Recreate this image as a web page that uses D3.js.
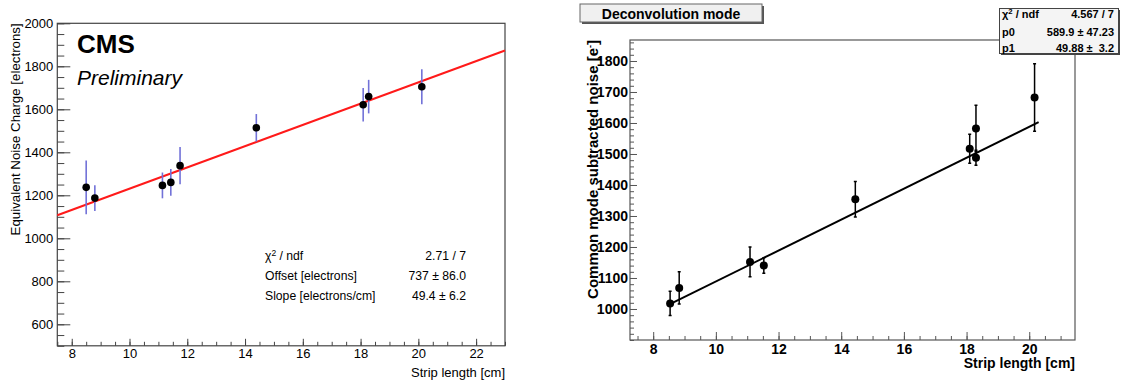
<!DOCTYPE html>
<html>
<head>
<meta charset="utf-8">
<script src="https://cdn.jsdelivr.net/npm/d3@7"></script>
<style>
  html, body { margin: 0; padding: 0; background: #fff; }
  svg { display: block; font-family: "Liberation Sans", Arial, sans-serif; }
  text { white-space: pre; }
</style>
</head>
<body>
<svg id="chart" width="1121" height="386"></svg>
<script>
// ─── Data ────────────────────────────────────────────────────────────────────

// Left panel (CMS Preliminary)
const stripLeft  = [8.5, 8.8, 11.14, 11.43, 11.75, 14.39, 18.09, 18.28, 20.12];
const encLeft    = [1237, 1187, 1246, 1260, 1338, 1514, 1621, 1659, 1705];
const encErrLeft = [125, 60, 60, 62, 87, 64, 78, 78, 81];
const fitLeft    = { offset: 737, slope: 49.4 };
const statsLeft  = [
  ['χ2 / ndf', '2.71 / 7'],
  ['Offset [electrons]', '737 ± 86.0'],
  ['Slope [electrons/cm]', '49.4 ± 6.2'],
];
const yTicksLeft = [600, 800, 1000, 1200, 1400, 1600, 1800, 2000];
const xTicksLeft = [8, 10, 12, 14, 16, 18, 20, 22];

// Right panel (Deconvolution mode)
const stripRight    = [8.54, 8.83, 11.09, 11.53, 14.45, 18.1, 18.3, 18.3, 20.17];
const noiseRight    = [1018, 1068, 1152, 1140, 1354, 1517, 1582, 1488, 1682];
const noiseErrRight = [39, 52, 48, 25, 57, 47, 75, 24, 109];
const fitRight      = { p0: 589.9, p1: 49.88, from: 8.55, to: 20.3 };
const statsRight    = [
  ['χ2 / ndf', '4.567 / 7'],
  ['p0', '589.9 ± 47.23'],
  ['p1', '49.88 ±  3.2'],
];
const yTicksRight = [1000, 1100, 1200, 1300, 1400, 1500, 1600, 1700, 1800];
const xTicksRight = [8, 10, 12, 14, 16, 18, 20];

const svg = d3.select('#chart');

// ─── Helpers ─────────────────────────────────────────────────────────────────

function range(a, b, step) {
  const out = [];
  for (let v = a; v <= b + 1e-9; v += step) out.push(+v.toFixed(4));
  return out;
}

// ROOT-style frame: ticks point inward, labels outside
function drawFrame(g, x, y, opt) {
  const [x0, x1] = x.range();
  const [y1, y0] = y.range();

  // minor ticks
  g.append('g')
    .attr('transform', `translate(${x0},0)`)
    .call(d3.axisLeft(y).tickValues(opt.yMinor).tickSize(-opt.yMinorLen).tickFormat(''))
    .call(s => { s.select('.domain').remove(); s.selectAll('line').attr('stroke', opt.frame); });
  g.append('g')
    .attr('transform', `translate(0,${y1})`)
    .call(d3.axisBottom(x).tickValues(opt.xMinor).tickSize(-opt.xMinorLen).tickFormat(''))
    .call(s => { s.select('.domain').remove(); s.selectAll('line').attr('stroke', opt.frame); });

  // major ticks + labels
  g.append('g')
    .attr('transform', `translate(${x0},0)`)
    .call(d3.axisLeft(y).tickValues(opt.yTicks).tickSize(-opt.yMajorLen).tickPadding(opt.yPad).tickFormat(d3.format('d')))
    .call(s => {
      s.select('.domain').remove();
      s.selectAll('line').attr('stroke', opt.frame);
      s.selectAll('text').attr('fill', '#000')
        .style('font-size', opt.fontSize).style('font-weight', opt.weight)
        .style('font-family', '"Liberation Sans", Arial, sans-serif');
    });
  g.append('g')
    .attr('transform', `translate(0,${y1})`)
    .call(d3.axisBottom(x).tickValues(opt.xTicks).tickSize(-opt.xMajorLen).tickPadding(0).tickFormat(d3.format('d')))
    .call(s => {
      s.select('.domain').remove();
      s.selectAll('line').attr('stroke', opt.frame);
      s.selectAll('text').attr('fill', '#000').attr('y', null).attr('dy', null)
        .attr('transform', `translate(0,${opt.xLabelBase - y1})`)
        .style('font-size', opt.fontSize).style('font-weight', opt.weight)
        .style('font-family', '"Liberation Sans", Arial, sans-serif');
    });

  g.append('rect')
    .attr('x', x0).attr('y', y0)
    .attr('width', x1 - x0).attr('height', y1 - y0)
    .attr('fill', 'none').attr('stroke', opt.frame).attr('stroke-width', 1.2);
}

function chiLabel(sel) {
  sel.text('χ');
  sel.append('tspan').attr('dy', -4).style('font-size', '0.7em').text('2');
  sel.append('tspan').attr('dy', 4).text(' / ndf');
}

// ─── Left panel ──────────────────────────────────────────────────────────────

const xL = d3.scaleLinear().domain([7.5, 23]).range([57.3, 505]);
const yL = d3.scaleLinear().domain([500, 2000]).range([345.8, 23.3]);
const gL = svg.append('g');

drawFrame(gL, xL, yL, {
  frame: '#444', fontSize: '13px', weight: 'normal',
  yTicks: yTicksLeft, yMinor: range(500, 2000, 50), yMajorLen: 13, yMinorLen: 7, yPad: 4,
  xTicks: xTicksLeft, xMinor: range(7.5, 23, 0.5), xMajorLen: 7, xMinorLen: 4,
  xLabelBase: 358,
});

gL.append('line')
  .attr('x1', xL(7.5)).attr('y1', yL(fitLeft.offset + fitLeft.slope * 7.5))
  .attr('x2', xL(23)).attr('y2', yL(fitLeft.offset + fitLeft.slope * 23))
  .attr('stroke', '#ff1a1a').attr('stroke-width', 2);

const ptsL = stripLeft.map((s, i) => ({ x: s, y: encLeft[i], e: encErrLeft[i] }));
gL.selectAll('.err').data(ptsL).join('line')
  .attr('x1', d => xL(d.x)).attr('x2', d => xL(d.x))
  .attr('y1', d => yL(d.y - d.e)).attr('y2', d => yL(d.y + d.e))
  .attr('stroke', '#7272d8').attr('stroke-width', 1.6);
gL.selectAll('.pt').data(ptsL).join('circle')
  .attr('cx', d => xL(d.x)).attr('cy', d => yL(d.y)).attr('r', 3.8).attr('fill', '#000');

gL.append('text').attr('x', 77).attr('y', 53)
  .style('font-size', '26px').style('font-weight', 'bold').text('CMS');
gL.append('text').attr('x', 77).attr('y', 85)
  .style('font-size', '21px').style('font-style', 'italic').text('Preliminary');

gL.append('text')
  .attr('transform', 'translate(19.5,23.3) rotate(-90)')
  .attr('text-anchor', 'end')
  .style('font-size', '13.3px')
  .text('Equivalent Noise Charge [electrons]');
gL.append('text')
  .attr('x', 505).attr('y', 377).attr('text-anchor', 'end')
  .style('font-size', '13px')
  .text('Strip length [cm]');

const statBaseL = [260, 280, 299.5];
statsLeft.forEach(([k, v], i) => {
  const t = gL.append('text').attr('x', 265).attr('y', statBaseL[i]).style('font-size', '12.2px');
  if (i === 0) chiLabel(t); else t.text(k);
  gL.append('text').attr('x', 466).attr('y', statBaseL[i]).attr('text-anchor', 'end')
    .style('font-size', '12.2px').text(v);
});

// ─── Right panel ─────────────────────────────────────────────────────────────

const xR = d3.scaleLinear().domain([7.26, 21.46]).range([630, 1075]);
const yR = d3.scaleLinear().domain([900, 1867.7]).range([340, 40]);
const gR = svg.append('g');

drawFrame(gR, xR, yR, {
  frame: '#555', fontSize: '14px', weight: 'bold',
  yTicks: yTicksRight, yMinor: range(900, 1860, 20), yMajorLen: 7, yMinorLen: 4, yPad: 2,
  xTicks: xTicksRight, xMinor: range(7.5, 21, 0.5), xMajorLen: 8, xMinorLen: 4,
  xLabelBase: 354,
});

gR.append('line')
  .attr('x1', xR(fitRight.from)).attr('y1', yR(fitRight.p0 + fitRight.p1 * fitRight.from))
  .attr('x2', xR(fitRight.to)).attr('y2', yR(fitRight.p0 + fitRight.p1 * fitRight.to))
  .attr('stroke', '#000').attr('stroke-width', 2);

const ptsR = stripRight.map((s, i) => ({ x: s, y: noiseRight[i], e: noiseErrRight[i] }));
gR.selectAll('.err').data(ptsR).join('path')
  .attr('d', d => {
    const cx = xR(d.x), t = yR(d.y + d.e), b = yR(d.y - d.e);
    return `M${cx},${t}V${b}M${cx - 1.5},${t}H${cx + 1.5}M${cx - 1.5},${b}H${cx + 1.5}`;
  })
  .attr('stroke', '#000').attr('stroke-width', 1.5).attr('fill', 'none');
gR.selectAll('.pt').data(ptsR).join('circle')
  .attr('cx', d => xR(d.x)).attr('cy', d => yR(d.y)).attr('r', 4).attr('fill', '#000');

gR.append('text')
  .attr('transform', 'translate(598,40) rotate(-90)')
  .attr('text-anchor', 'end')
  .style('font-size', '15px').style('font-weight', 'bold')
  .text('Common mode subtracted noise [e')
  .append('tspan').attr('dy', -5).style('font-size', '9px').text('-')
  .append('tspan').attr('dy', 5).style('font-size', '15px').text(']');
gR.append('text')
  .attr('x', 1075).attr('y', 368).attr('text-anchor', 'end')
  .style('font-size', '14px').style('font-weight', 'bold')
  .text('Strip length [cm]');

// title box
gR.append('rect').attr('x', 582).attr('y', 6).attr('width', 182).attr('height', 18).attr('fill', '#555');
gR.append('rect').attr('x', 580).attr('y', 4).attr('width', 182).attr('height', 18)
  .attr('fill', '#f0f0f0').attr('stroke', '#666').attr('stroke-width', 1);
gR.append('text').attr('x', 671).attr('y', 18.5).attr('text-anchor', 'middle')
  .style('font-size', '14px').style('font-weight', 'bold').text('Deconvolution mode');

// stats box
gR.append('rect').attr('x', 1001).attr('y', 10).attr('width', 119).attr('height', 45).attr('fill', '#444');
gR.append('rect').attr('x', 999.5).attr('y', 8.5).attr('width', 119).attr('height', 45)
  .attr('fill', '#f4f4f4').attr('stroke', '#444').attr('stroke-width', 1);
const statBaseR = [18, 36, 52];
statsRight.forEach(([k, v], i) => {
  const t = gR.append('text').attr('x', 1002).attr('y', statBaseR[i])
    .style('font-size', '11px').style('font-weight', 'bold');
  if (i === 0) chiLabel(t); else t.text(k);
  gR.append('text').attr('x', 1114).attr('y', statBaseR[i]).attr('text-anchor', 'end')
    .style('font-size', '11px').style('font-weight', 'bold').text(v);
});
</script>
</body>
</html>
